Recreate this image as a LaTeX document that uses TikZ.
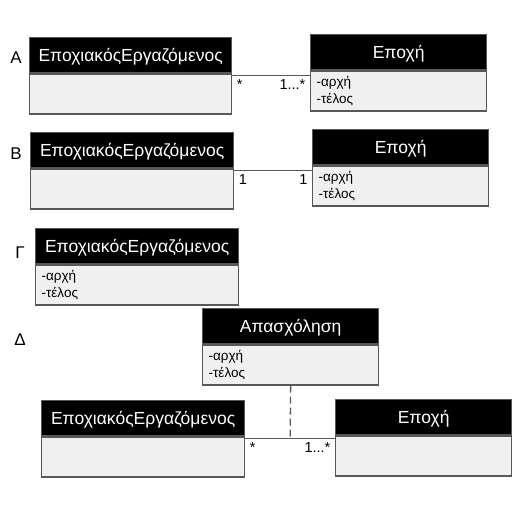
\documentclass[tikz,border=0pt]{standalone}
\usepackage{fontspec}
\setmainfont{Liberation Sans}
\usetikzlibrary{positioning}
\definecolor{bodygray}{HTML}{F0F0F0}
\definecolor{linegray}{HTML}{585858}

\begin{document}
\begin{tikzpicture}[x=1pt, y=-1pt,
	head/.style={draw=linegray, line width=1.3pt, fill=black, text=white, anchor=north west,
		minimum height=35pt, inner sep=0pt, text height=15pt, text depth=2pt,
		font=\fontsize{17.5}{20}\selectfont},
	classbody/.style={draw=linegray, line width=1.3pt, fill=bodygray, minimum height=40pt,
		inner xsep=6pt, inner ysep=2pt, align=left, font=\fontsize{13.5}{17}\selectfont},
	assoc/.style={draw=linegray, line width=1.3pt},
	mult/.style={inner sep=4pt, font=\fontsize{14.5}{17}\selectfont},
	letter/.style={font=\fontsize{17}{20}\selectfont}
]
	\useasboundingbox (0,0) rectangle (512,512);
	% section letters
	\foreach \name/\x/\y/\labl in {labA/16/58/A, labB/16/154/B, labC/20/253/Γ, labD/20/340/Δ}
	{
		\node [letter] (\name) at (\x,\y) {\labl};
	}
	% classes
	\foreach \name/\x/\y/\w/\labl/\attr in {
		eaA/29/37/202/ΕποχιακόςΕργαζόμενος/{},
		epA/310/34/176/Εποχή/{-αρχή\\-τέλος},
		eaB/30/132/203/ΕποχιακόςΕργαζόμενος/{},
		epB/312/129/176/Εποχή/{-αρχή\\-τέλος},
		eaC/35/228/203/ΕποχιακόςΕργαζόμενος/{-αρχή\\-τέλος},
		apD/202/308/176/Απασχόληση/{-αρχή\\-τέλος},
		eaD/41/400/203/ΕποχιακόςΕργαζόμενος/{},
		epD/335/399/176/Εποχή/{}
	}
	{
		\pgfmathsetmacro\tw{\w-12}
		\node [head, minimum width=\w pt] (\name) at (\x,\y) {\labl};
		\node [classbody, text width=\tw pt, below=0pt of \name] (body \name) {\attr};
	}
	% associations
	\foreach \l/\r/\ml/\mr in {eaA/epA/*/{1...*}, eaB/epB/1/1, eaD/epD/*/{1...*}}
	{
		\draw [assoc] ([yshift=-2pt]body \l.north east) -- ([yshift=-2pt]body \l.north east -| body \r.west)
			coordinate [pos=0.5] (line \l)
			node [mult, pos=0, below right] {\ml}
			node [mult, pos=1, below left] {\mr};
	}
	\draw [assoc, dash pattern=on 7pt off 4pt] (body apD.south) -- (line eaD);
\end{tikzpicture}
\end{document}
